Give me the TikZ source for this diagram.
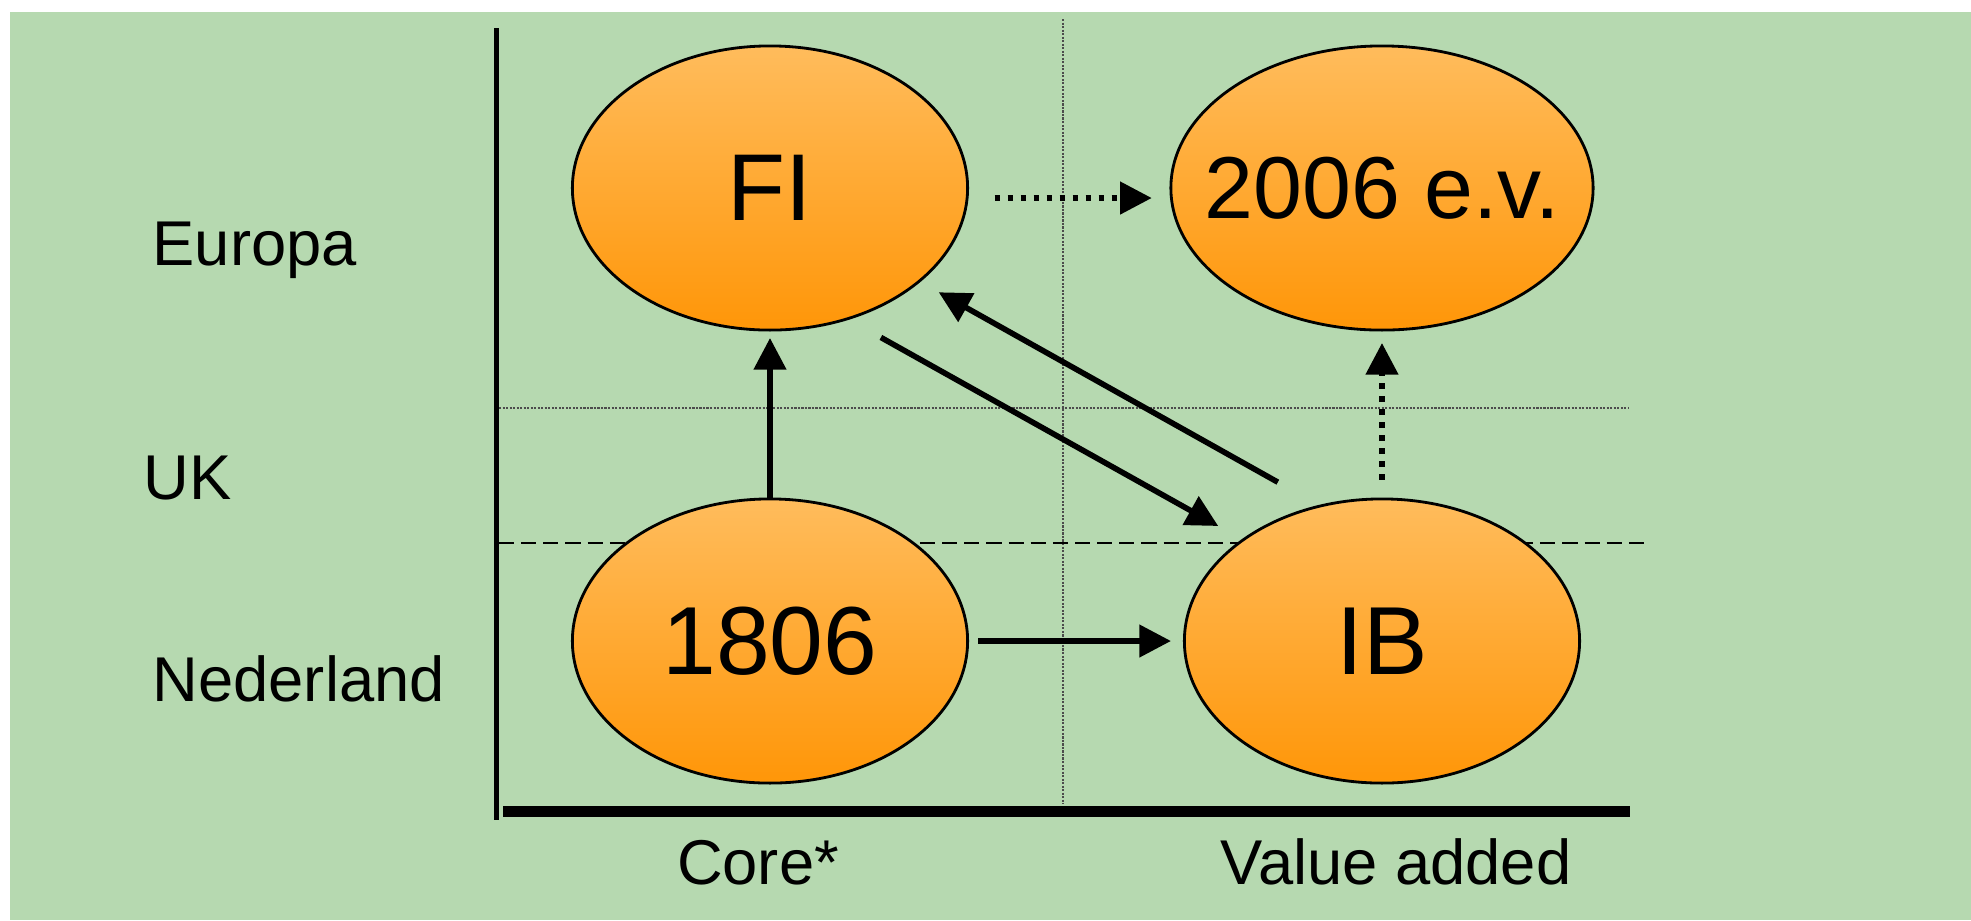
\documentclass[tikz,border=0pt]{standalone}
\usepackage{fontspec}
\setmainfont{Liberation Sans}
\usetikzlibrary{positioning,shapes.geometric,arrows.meta}

\definecolor{bggreen}{RGB}{182,217,176}
\definecolor{blobtop}{RGB}{255,188,92}
\definecolor{blobbottom}{RGB}{255,150,8}

\begin{document}
\begin{tikzpicture}[
      x=0.01cm, y=-0.01cm,
      blob/.style      = {ellipse, draw=black, line width=0.8pt, top color=blobtop, bottom color=blobbottom,
                          minimum width=3.95cm, minimum height=2.84cm, inner sep=0pt,
                          font=\fontsize{27.5}{32}\selectfont},
      rowlabel/.style  = {inner sep=0pt, font=\fontsize{18}{21}\selectfont},
      link/.style      = {draw, line width=1.6pt, -{Triangle[length=9pt,width=9pt]}},
      maybelink/.style = {link, dash pattern=on 1.6pt off 2.1pt},
      gridline/.style  = {draw=black!70, line width=0.3pt, dash pattern=on 0.6pt off 0.4pt},
      splitline/.style = {draw=black, line width=0.6pt, dash pattern=on 4.3pt off 2pt}
    ]
    \useasboundingbox (0,0) rectangle (1971,920);
    \fill[bggreen] (10,12) rectangle (1971,920);

    % quadrant lines
    \draw[gridline]  (1063,19)  -- (1063,804);
    \draw[gridline]  (499,408)  -- (1628,408);
    \draw[splitline] (499,543)  -- (1650,543);
    \draw[line width=0.05cm] (496,28)  -- (496,820);
    \draw[line width=0.11cm] (503,811) -- (1630,811);

    \node (fi)    [blob, font=\fontsize{27}{32}\selectfont] at (770,188) {FI};
    \node (ev)    [blob, minimum width=4.22cm, inner xsep=-0.4cm,
                   font=\fontsize{25}{30}\selectfont] at (1382,188)     {2006 e.v.};
    \node (n1806) [blob] at (770,641)                                   {1806};
    \node (ib)    [blob] at (1382,641)                                  {IB};

    \node (europa)    [rowlabel, anchor=base west] at (152,265) {Europa};
    \node (uk)        [rowlabel, anchor=base west] at (143,499) {UK};
    \node (nederland) [rowlabel, anchor=base west] at (152,701) {Nederland};
    \node (core)      [rowlabel, anchor=base] at (758,884)      {Core*};
    \node (valueadd)  [rowlabel, anchor=base] at (1396,884)     {Value added};

    \draw[link, shorten >=0.065cm]                   (n1806)      to (fi);
    \draw[link, shorten <=0.09cm,  shorten >=0.12cm]  (n1806)      to (ib);
    \draw[link, shorten <=0.364cm, shorten >=0.27cm]  (fi.-59.2)   to (ib.144.7);
    \draw[link, shorten <=0.467cm, shorten >=0.21cm]  (ib.115.8)   to (fi.-32.5);
    \draw[maybelink, shorten <=0.255cm, shorten >=0.177cm] ([yshift=-0.1cm]fi.east) to ([yshift=-0.1cm]ev.west);
    \draw[maybelink, shorten <=0.176cm, shorten >=0.115cm] (ib)  to (ev);

  \end{tikzpicture}
\end{document}
